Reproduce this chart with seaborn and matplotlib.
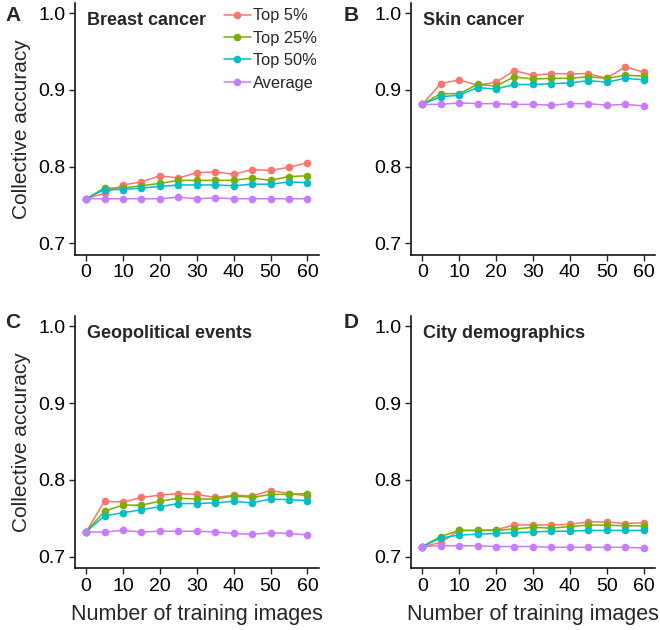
import matplotlib
matplotlib.use("Agg")
import matplotlib.pyplot as plt
import seaborn as sns
import pandas as pd

sns.set_style("ticks")
plt.rcParams["font.family"] = ["Liberation Sans", "DejaVu Sans"]

training = [0, 5, 10, 15, 20, 25, 30, 35, 40, 45, 50, 55, 60]
groups = ["Top 5%", "Top 25%", "Top 50%", "Average"]
colors = ["#F8766D", "#7CAE00", "#00BFC4", "#C77CFF"]
panel_titles = ["Breast cancer", "Skin cancer", "Geopolitical events", "City demographics"]
panel_letters = ["A", "B", "C", "D"]

breast_top5 = [0.758, 0.765, 0.776, 0.780, 0.788, 0.785, 0.792, 0.793, 0.790, 0.796, 0.795, 0.799, 0.805]
breast_top25 = [0.758, 0.772, 0.772, 0.775, 0.778, 0.782, 0.782, 0.782, 0.782, 0.785, 0.782, 0.787, 0.788]
breast_top50 = [0.758, 0.770, 0.770, 0.772, 0.774, 0.776, 0.776, 0.776, 0.775, 0.777, 0.777, 0.780, 0.779]
breast_avg = [0.758, 0.758, 0.758, 0.758, 0.758, 0.760, 0.758, 0.759, 0.758, 0.758, 0.758, 0.758, 0.758]

skin_top5 = [0.881, 0.908, 0.913, 0.906, 0.910, 0.925, 0.919, 0.921, 0.921, 0.921, 0.915, 0.930, 0.923]
skin_top25 = [0.881, 0.895, 0.895, 0.907, 0.905, 0.917, 0.914, 0.915, 0.915, 0.917, 0.915, 0.919, 0.918]
skin_top50 = [0.881, 0.891, 0.893, 0.903, 0.901, 0.907, 0.907, 0.908, 0.909, 0.912, 0.910, 0.915, 0.913]
skin_avg = [0.881, 0.881, 0.883, 0.882, 0.882, 0.881, 0.881, 0.880, 0.882, 0.882, 0.880, 0.881, 0.879]

geo_top5 = [0.732, 0.772, 0.771, 0.777, 0.780, 0.782, 0.781, 0.777, 0.780, 0.779, 0.786, 0.782, 0.779]
geo_top25 = [0.732, 0.759, 0.767, 0.767, 0.772, 0.776, 0.775, 0.775, 0.779, 0.777, 0.781, 0.781, 0.782]
geo_top50 = [0.732, 0.753, 0.757, 0.761, 0.765, 0.769, 0.769, 0.770, 0.772, 0.770, 0.775, 0.774, 0.773]
geo_avg = [0.732, 0.732, 0.734, 0.732, 0.733, 0.733, 0.733, 0.732, 0.730, 0.729, 0.731, 0.730, 0.728]

city_top5 = [0.713, 0.718, 0.734, 0.734, 0.735, 0.741, 0.741, 0.741, 0.742, 0.745, 0.745, 0.743, 0.744]
city_top25 = [0.713, 0.726, 0.734, 0.734, 0.734, 0.736, 0.738, 0.737, 0.739, 0.741, 0.741, 0.740, 0.740]
city_top50 = [0.713, 0.724, 0.728, 0.729, 0.730, 0.731, 0.732, 0.733, 0.733, 0.734, 0.734, 0.734, 0.734]
city_avg = [0.713, 0.714, 0.714, 0.714, 0.713, 0.713, 0.713, 0.712, 0.712, 0.712, 0.712, 0.712, 0.711]

panels = [
    [breast_top5, breast_top25, breast_top50, breast_avg],
    [skin_top5, skin_top25, skin_top50, skin_avg],
    [geo_top5, geo_top25, geo_top50, geo_avg],
    [city_top5, city_top25, city_top50, city_avg],
]

fig, axes = plt.subplots(2, 2, figsize=(6.6, 6.3), dpi=100)
fig.subplots_adjust(left=0.1136, right=0.992, top=0.995, bottom=0.0984, wspace=0.38, hspace=0.245)

for i, ax in enumerate(axes.flat):
    rows = []
    for g, vals in zip(groups, panels[i]):
        for x, v in zip(training, vals):
            rows.append({"n": x, "acc": v, "group": g})
    df = pd.DataFrame(rows)
    sns.lineplot(data=df, x="n", y="acc", hue="group", hue_order=groups, palette=colors,
                 marker="o", markersize=5.5, markeredgewidth=0, linewidth=1.1, ax=ax, legend=(i == 0))
    ax.set_xlim(-3, 63)
    ax.set_ylim(0.685, 1.013)
    ax.set_xticks(range(0, 61, 10))
    ax.set_yticks([0.7, 0.8, 0.9, 1.0])
    ax.set_yticklabels(["0.7", "0.8", "0.9", "1.0"])
    ax.tick_params(labelsize=14, length=4, width=1.0, colors="#222222", labelcolor="black", pad=3)
    for s in ["left", "bottom"]:
        ax.spines[s].set_linewidth(1.1)
        ax.spines[s].set_color("black")
    sns.despine(ax=ax)
    ax.set_xlabel("Number of training images" if i >= 2 else "", fontsize=15.5, labelpad=7)
    ax.set_ylabel("Collective accuracy" if i % 2 == 0 else "", fontsize=15, labelpad=5)
    ax.text(0.05, 0.965, panel_titles[i], transform=ax.transAxes, fontsize=13,
            fontweight="bold", va="top", ha="left")
    if i == 0:
        ax.legend(frameon=False, loc="upper right", bbox_to_anchor=(1.02, 1.005), fontsize=11.8,
                  handlelength=1.6, handletextpad=0.15, labelspacing=0.45, borderaxespad=0)

letter_pos = [(0.008, 0.975), (0.52, 0.975), (0.008, 0.488), (0.52, 0.488)]
for letter, (x, y) in zip(panel_letters, letter_pos):
    fig.text(x, y, letter, fontsize=15, fontweight="bold", va="center", ha="left")

fig.savefig("out.png", dpi=100)
